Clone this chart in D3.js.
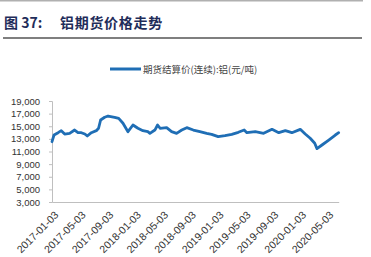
<!DOCTYPE html>
<html>
<head>
<meta charset="utf-8">
<script src="https://cdn.jsdelivr.net/npm/d3@7"></script>
<style>
  body { margin: 0; background: #fff; }
  svg { display: block; }
</style>
</head>
<body>
<svg class="chart" width="371" height="257"></svg>
<script>
// values
var dates = [
  "2017-01-03", "2017-01-12", "2017-01-30", "2017-02-13", "2017-02-28", "2017-03-22",
  "2017-04-13", "2017-04-28", "2017-05-13", "2017-05-28", "2017-06-08", "2017-06-26",
  "2017-07-18", "2017-07-28", "2017-08-06", "2017-08-24", "2017-09-08", "2017-10-07",
  "2017-10-25", "2017-11-13", "2017-12-05", "2017-12-27", "2018-01-18", "2018-02-09",
  "2018-03-03", "2018-03-12", "2018-04-03", "2018-04-15", "2018-04-26", "2018-05-25",
  "2018-06-16", "2018-07-08", "2018-07-31", "2018-08-22", "2018-09-20", "2018-10-19",
  "2018-11-18", "2018-12-10", "2019-01-08", "2019-02-07", "2019-03-09", "2019-04-07",
  "2019-05-03", "2019-05-15", "2019-06-21", "2019-07-28", "2019-09-03", "2019-10-03",
  "2019-11-01", "2019-11-30", "2020-01-06", "2020-01-28", "2020-02-19", "2020-03-10",
  "2020-03-20", "2020-04-11", "2020-05-11", "2020-06-09", "2020-06-24"
];
var prices = [
  12550, 13610, 13980, 14300, 13770, 13880,
  14400, 13980, 13980, 13770, 13460, 13980,
  14300, 14680, 15990, 16420, 16620, 16420,
  16250, 15470, 14140, 15200, 14680, 14300,
  14140, 13880, 14400, 15200, 14680, 14780,
  14140, 13880, 14400, 14780, 14400, 14140,
  13880, 13720, 13350, 13500, 13720, 14040,
  14400, 13980, 14140, 13880, 14510, 13980,
  14300, 13980, 14510, 13770, 13090, 12300,
  11450, 12030, 12820, 13610, 13980
];
var xTickLabels = [
  "2017-01-03", "2017-05-03", "2017-09-03", "2018-01-03", "2018-05-03", "2018-09-03",
  "2019-01-03", "2019-05-03", "2019-09-03", "2020-01-03", "2020-05-03"
];
var yTickValues = [3000, 5000, 7000, 9000, 11000, 13000, 15000, 17000, 19000];
var seriesName = "期货结算价(连续):铝(元/吨)";
var titleNum = "图 37:";
var titleText = "铝期货价格走势";

var parseTime = d3.timeParse("%Y-%m-%d");
var data = dates.map(function(d, i) {
  return { date: parseTime(d), value: prices[i] };
});

var svg = d3.select(".chart");

// header rules + title
svg.append("line")
  .attr("x1", 0).attr("x2", 363).attr("y1", 0.5).attr("y2", 0.5)
  .attr("stroke", "#b0b0b0").attr("stroke-width", 2);
svg.append("line")
  .attr("x1", 3).attr("x2", 362).attr("y1", 38).attr("y2", 38)
  .attr("stroke", "#555").attr("stroke-width", 1.5);
svg.append("text")
  .attr("x", 4).attr("y", 28)
  .attr("font-family", "'Noto Sans CJK SC', sans-serif")
  .attr("font-size", 14).attr("font-weight", "bold")
  .attr("fill", "#1f2d5a")
  .text(titleNum);
svg.append("text")
  .attr("x", 60).attr("y", 28)
  .attr("font-family", "'Noto Sans CJK SC', sans-serif")
  .attr("font-size", 14).attr("font-weight", "bold")
  .attr("letter-spacing", 0.7)
  .attr("fill", "#1f2d5a")
  .text(titleText);

// legend
svg.append("line")
  .attr("x1", 110).attr("x2", 141).attr("y1", 69).attr("y2", 69)
  .attr("stroke", "#1f6eb5").attr("stroke-width", 3);
svg.append("text")
  .attr("x", 143).attr("y", 72.5)
  .attr("font-family", "'Noto Sans CJK SC', sans-serif")
  .attr("font-size", 9.5)
  .attr("fill", "#444")
  .text(seriesName);

var x = d3.scaleTime()
  .domain([parseTime("2017-01-03"), parseTime("2020-06-24")])
  .range([52, 338.7]);
var y = d3.scaleLinear().domain([3000, 19000]).range([202, 101]);

// y axis
var yAxis = svg.append("g")
  .attr("transform", "translate(52,0)")
  .call(d3.axisLeft(y).tickValues(yTickValues).tickSize(3).tickPadding(9)
    .tickFormat(d3.format(",")));
yAxis.selectAll("line, path").attr("stroke", "#bfbfbf");
yAxis.selectAll("text")
  .attr("font-family", "'Liberation Sans', Arial, sans-serif")
  .attr("font-size", 9.5).attr("fill", "#333");

// x axis
var xAxis = svg.append("g")
  .attr("transform", "translate(0,202)")
  .call(d3.axisBottom(x)
    .tickValues(xTickLabels.map(parseTime))
    .tickSize(0)
    .tickFormat(d3.timeFormat("%Y-%m-%d")));
xAxis.select(".domain").attr("stroke", "#bfbfbf");
xAxis.selectAll("text")
  .attr("font-family", "'Liberation Sans', Arial, sans-serif")
  .attr("font-size", 10.5).attr("fill", "#333")
  .attr("text-anchor", "end")
  .attr("dy", "0.35em")
  .attr("transform", "translate(2,9) rotate(-45)");

var line = d3.line()
  .x(function(d) { return x(d.date); })
  .y(function(d) { return y(d.value); });

svg.append("path")
  .datum(data)
  .attr("fill", "none")
  .attr("stroke", "#1f6eb5")
  .attr("stroke-width", 2.8)
  .attr("stroke-linejoin", "round")
  .attr("stroke-linecap", "round")
  .attr("d", line);
</script>
</body>
</html>
